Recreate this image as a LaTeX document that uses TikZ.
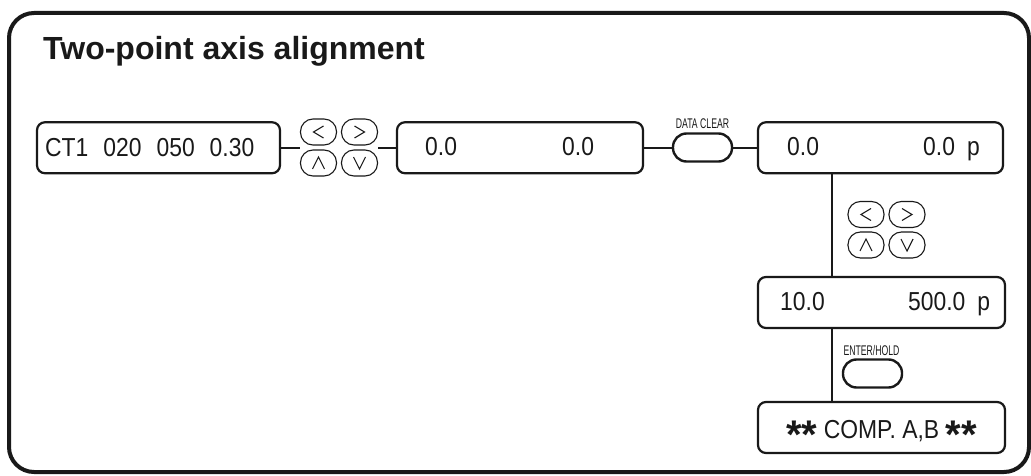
\documentclass[tikz,border=0pt]{standalone}
\usepackage{fontspec}
\setmainfont{Liberation Sans}
\newfontfamily\dispfont[FakeStretch=0.88]{Liberation Sans}
\newfontfamily\keyfont[FakeStretch=0.62]{Liberation Sans}
\begin{document}
\begin{tikzpicture}[x=1pt,y=-1pt,
  frame/.style={draw=black!90, line width=4pt, rounded corners=25pt},
  dispbox/.style={draw=black!90, line width=2.2pt, rounded corners=8pt, inner sep=0pt, minimum width=#1, minimum height=51pt},
  dispbox/.default=246pt,
  disptext/.style={anchor=base west, inner sep=0pt, font=\dispfont\fontsize{26}{26}\selectfont, text=black!90},
  arrowkey/.style={draw=black!90, line width=1.1pt, rounded corners=12.5pt, inner sep=0pt, minimum width=36pt, minimum height=26pt},
  chev/.style={draw=black!90, line width=1.1pt},
  bigkey/.style={draw=black!90, line width=2.4pt, rounded corners=13.5pt, inner sep=0pt, minimum width=59pt, minimum height=28pt},
  keylabel/.style={anchor=base, inner sep=0pt, font=\keyfont\fontsize{14}{14}\selectfont, text=black!90},
  link/.style={draw=black!90, line width=2.2pt}
]
\useasboundingbox (0,0) rectangle (1031,476);
\draw[frame] (9,13) rectangle (1029,472);
\node[anchor=base west, inner sep=0pt, font=\bfseries\fontsize{32}{32}\selectfont, text=black!90] (title) at (43,60) {Two-point axis alignment};

% display boxes
\node[dispbox=243pt] (b1) at (158.5,147.75) {};
\node[dispbox=246pt] (b2) at (520,147.75) {};
\node[dispbox=245pt] (b3) at (880.5,147.75) {};
\node[dispbox=247pt] (b4) at (881.5,302.5) {};
\node[dispbox=247pt] (b5) at (881.5,427.5) {};

% texts
\node[disptext] (t1) at (45,157) {CT1\hspace{15pt}020\hspace{15pt}050\hspace{15pt}0.30};
\node[disptext] (t2a) at (425,156) {0.0};
\node[disptext] (t2b) at (562,156) {0.0};
\node[disptext] (t3a) at (787,156) {0.0};
\node[disptext] (t3b) at (923,156) {0.0\hspace{12pt}p};
\node[disptext] (t4a) at (780,310) {10.0};
\node[disptext] (t4b) at (908,310) {500.0\hspace{12pt}p};
\node[disptext, anchor=base] (t5) at (881.5,438) {{\bfseries\fontspec{Liberation Sans}\fontsize{40}{40}\selectfont\raisebox{-10pt}{**}} COMP.\ A,B {\bfseries\fontspec{Liberation Sans}\fontsize{40}{40}\selectfont\raisebox{-10pt}{**}}};

% arrow key group 1
\node[arrowkey] (k1l) at (318.5,132) {};
\node[arrowkey] (k1r) at (359.5,132) {};
\node[arrowkey] (k1u) at (318.5,163) {};
\node[arrowkey] (k1d) at (359.5,163) {};
% arrow key group 2
\node[arrowkey] (k2l) at (866,214.5) {};
\node[arrowkey] (k2r) at (907,214.5) {};
\node[arrowkey] (k2u) at (866,245) {};
\node[arrowkey] (k2d) at (907,245) {};

\foreach \k in {k1l,k2l} { \draw[chev] ([shift={(5,-6)}]\k.center) -- ([shift={(-5,0)}]\k.center) -- ([shift={(5,6)}]\k.center); }
\foreach \k in {k1r,k2r} { \draw[chev] ([shift={(-5,-6)}]\k.center) -- ([shift={(5,0)}]\k.center) -- ([shift={(-5,6)}]\k.center); }
\foreach \k in {k1u,k2u} { \draw[chev] ([shift={(-6,6)}]\k.center) -- ([shift={(0,-6)}]\k.center) -- ([shift={(6,6)}]\k.center); }
\foreach \k in {k1d,k2d} { \draw[chev] ([shift={(-6,-6)}]\k.center) -- ([shift={(0,6)}]\k.center) -- ([shift={(6,-6)}]\k.center); }

% big keys
\node[bigkey] (dc) at (702.5,147.5) {};
\node[keylabel] (dcl) at (702.5,129) {DATA CLEAR};
\node[bigkey] (eh) at (872.5,373.5) {};
\node[keylabel] (ehl) at (871.5,355) {ENTER/HOLD};

% connectors
\coordinate (vx) at (832,0);
\draw[link] (b1.east) -- (b1.east -| k1l.west);
\draw[link] (b2.west -| k1r.east) -- (b2.west);
\draw[link] (b2.east) -- (dc.west |- b2.east);
\draw[link] (dc.east |- b3.west) -- (b3.west);
\draw[link] (b3.south -| vx) -- (b4.north -| vx);
\draw[link] (b4.south -| vx) -- (b5.north -| vx);
\end{tikzpicture}
\end{document}
